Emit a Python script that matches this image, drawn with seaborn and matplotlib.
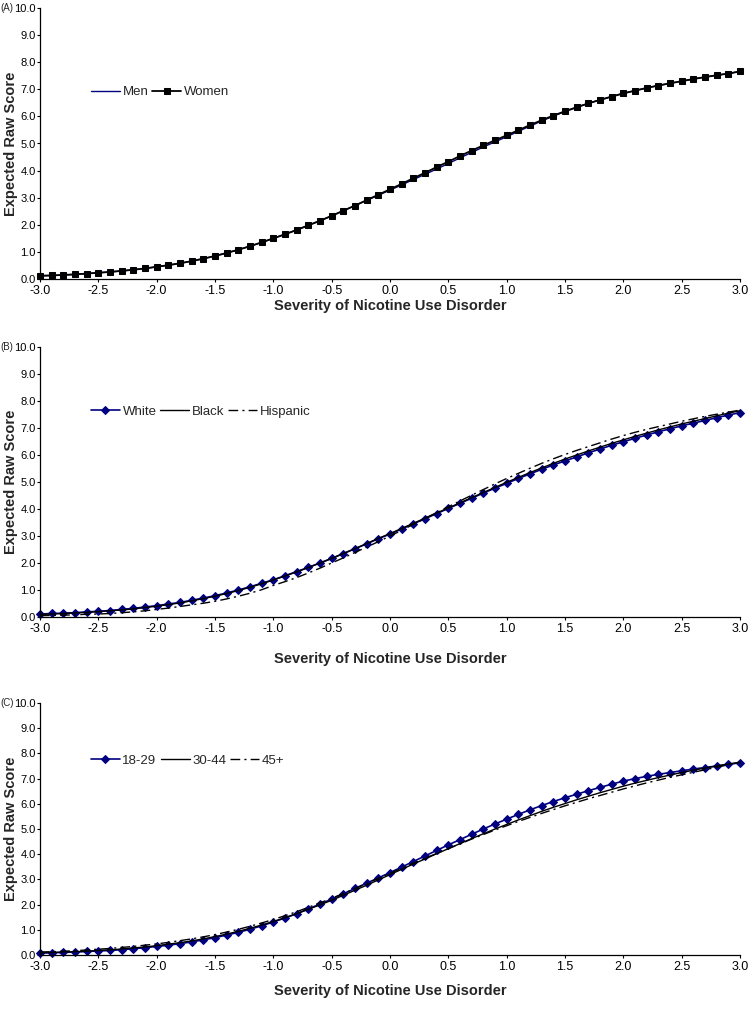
import numpy as np
import pandas as pd
import matplotlib
matplotlib.use("Agg")
import matplotlib.pyplot as plt
import seaborn as sns

# === data (x grid step 0.1) ===
severity = np.round(np.arange(-30, 31) / 10, 1)

men = [0.12, 0.13, 0.15, 0.17, 0.20, 0.23, 0.26, 0.30, 0.34, 0.39,
       0.45, 0.51, 0.58, 0.66, 0.75, 0.85, 0.96, 1.08, 1.21, 1.35,
       1.50, 1.65, 1.81, 1.98, 2.15, 2.33, 2.52, 2.71, 2.90, 3.09,
       3.28, 3.47, 3.67, 3.86, 4.06, 4.26, 4.47, 4.67, 4.87, 5.06,
       5.25, 5.45, 5.64, 5.83, 6.01, 6.18, 6.33, 6.48, 6.61, 6.73,
       6.85, 6.95, 7.05, 7.14, 7.22, 7.30, 7.38, 7.45, 7.52, 7.58, 7.66]
women = [0.12, 0.13, 0.15, 0.17, 0.20, 0.23, 0.26, 0.30, 0.34, 0.39,
         0.45, 0.51, 0.58, 0.66, 0.75, 0.85, 0.96, 1.08, 1.21, 1.35,
         1.50, 1.65, 1.81, 1.98, 2.15, 2.33, 2.52, 2.71, 2.91, 3.11,
         3.31, 3.51, 3.72, 3.92, 4.13, 4.33, 4.54, 4.74, 4.93, 5.12,
         5.30, 5.49, 5.68, 5.86, 6.03, 6.19, 6.34, 6.48, 6.61, 6.73,
         6.85, 6.95, 7.05, 7.14, 7.22, 7.30, 7.38, 7.45, 7.52, 7.58, 7.66]

white = [0.11, 0.13, 0.14, 0.16, 0.19, 0.21, 0.24, 0.28, 0.32, 0.37,
         0.42, 0.48, 0.54, 0.62, 0.70, 0.79, 0.89, 1.00, 1.12, 1.25,
         1.38, 1.53, 1.68, 1.84, 2.00, 2.17, 2.35, 2.53, 2.71, 2.90,
         3.07, 3.26, 3.45, 3.64, 3.83, 4.02, 4.21, 4.40, 4.59, 4.77,
         4.95, 5.13, 5.30, 5.47, 5.63, 5.78, 5.93, 6.08, 6.22, 6.36,
         6.49, 6.62, 6.74, 6.86, 6.97, 7.08, 7.18, 7.28, 7.38, 7.48, 7.57]
black = [0.10, 0.11, 0.13, 0.15, 0.17, 0.20, 0.23, 0.26, 0.30, 0.35,
         0.40, 0.46, 0.52, 0.60, 0.68, 0.77, 0.87, 0.98, 1.10, 1.23,
         1.37, 1.52, 1.67, 1.83, 2.00, 2.17, 2.35, 2.53, 2.72, 2.91,
         3.09, 3.28, 3.47, 3.66, 3.85, 4.04, 4.23, 4.42, 4.61, 4.80,
         4.99, 5.17, 5.35, 5.52, 5.69, 5.85, 6.00, 6.15, 6.29, 6.43,
         6.56, 6.69, 6.81, 6.93, 7.04, 7.15, 7.25, 7.35, 7.45, 7.55, 7.64]
hispanic = [0.05, 0.06, 0.07, 0.08, 0.10, 0.11, 0.13, 0.16, 0.19, 0.23,
            0.28, 0.33, 0.39, 0.45, 0.51, 0.58, 0.67, 0.77, 0.88, 1.01,
            1.17, 1.31, 1.46, 1.63, 1.81, 2.00, 2.19, 2.39, 2.59, 2.79,
            3.00, 3.21, 3.43, 3.65, 3.87, 4.08, 4.30, 4.51, 4.72, 4.93,
            5.13, 5.32, 5.51, 5.69, 5.86, 6.02, 6.17, 6.31, 6.45, 6.59,
            6.72, 6.84, 6.95, 7.05, 7.15, 7.25, 7.34, 7.43, 7.51, 7.59, 7.66]

age_18_29 = [0.08, 0.09, 0.10, 0.12, 0.14, 0.16, 0.18, 0.21, 0.25, 0.29,
             0.34, 0.39, 0.45, 0.52, 0.60, 0.69, 0.79, 0.90, 1.02, 1.16,
             1.31, 1.47, 1.64, 1.83, 2.02, 2.22, 2.43, 2.64, 2.85, 3.06,
             3.27, 3.49, 3.71, 3.93, 4.15, 4.37, 4.58, 4.79, 5.00, 5.20,
             5.39, 5.58, 5.76, 5.93, 6.09, 6.24, 6.38, 6.52, 6.65, 6.78,
             6.90, 7.00, 7.09, 7.17, 7.24, 7.31, 7.38, 7.44, 7.50, 7.56, 7.63]
age_30_44 = [0.09, 0.10, 0.12, 0.13, 0.15, 0.18, 0.20, 0.24, 0.28, 0.32,
             0.37, 0.43, 0.49, 0.56, 0.64, 0.73, 0.83, 0.94, 1.06, 1.19,
             1.33, 1.48, 1.64, 1.81, 1.99, 2.17, 2.37, 2.57, 2.77, 2.98,
             3.19, 3.40, 3.61, 3.81, 4.02, 4.22, 4.42, 4.62, 4.81, 5.00,
             5.18, 5.36, 5.53, 5.70, 5.86, 6.01, 6.16, 6.30, 6.44, 6.57,
             6.70, 6.82, 6.93, 7.04, 7.14, 7.24, 7.33, 7.42, 7.50, 7.58, 7.65]
age_45_plus = [0.12, 0.13, 0.15, 0.17, 0.20, 0.23, 0.26, 0.30, 0.34, 0.39,
               0.44, 0.50, 0.57, 0.64, 0.72, 0.81, 0.91, 1.02, 1.14, 1.27,
               1.41, 1.56, 1.72, 1.89, 2.07, 2.25, 2.44, 2.64, 2.84, 3.04,
               3.24, 3.44, 3.64, 3.84, 4.03, 4.22, 4.41, 4.60, 4.78, 4.96,
               5.13, 5.30, 5.46, 5.62, 5.77, 5.92, 6.06, 6.20, 6.33, 6.46,
               6.59, 6.71, 6.83, 6.94, 7.05, 7.15, 7.25, 7.35, 7.45, 7.55, 7.65]

x_ticks = np.round(np.arange(-6, 7) / 2, 1)
y_ticks = np.arange(0, 11)

# === styling ===
sns.set_style("ticks")
plt.rcParams['font.family'] = ['Liberation Sans', 'DejaVu Sans']

NAVY = "#000080"
fig = plt.figure(figsize=(7.51, 10.09), dpi=100)

left, width = 40 / 751, 700 / 751
# tag, top px, bottom px, xlabel pad, legend y (axes fraction)
panels = [
    ("(A)", 8, 279, 1, 0.69),
    ("(B)", 347, 617, 12, 0.76),
    ("(C)", 703, 955, 8, 0.77),
]

series = [
    [("Men", men, dict(color=NAVY, lw=1.0)),
     ("Women", women, dict(color="black", lw=1.3, marker="s", markersize=5))],
    [("White", white, dict(color=NAVY, lw=1.2, marker="D", markersize=4)),
     ("Black", black, dict(color="black", lw=1.0)),
     ("Hispanic", hispanic, dict(color="black", lw=1.0, dashes=(7, 3, 1.5, 3)))],
    [("18-29", age_18_29, dict(color=NAVY, lw=1.2, marker="D", markersize=4)),
     ("30-44", age_30_44, dict(color="black", lw=1.0)),
     ("45+", age_45_plus, dict(color="black", lw=1.0, dashes=(7, 3, 1.5, 3)))],
]

for (tag, top_px, bot_px, xpad, leg_y), group in zip(panels, series):
    bottom = 1 - bot_px / 1009
    height = (bot_px - top_px) / 1009
    ax = fig.add_axes([left, bottom, width, height])
    ax.patch.set_visible(False)

    for name, vals, kw in group:
        df = pd.DataFrame({"x": severity, "y": vals})
        sns.lineplot(data=df, x="x", y="y", ax=ax, label=name,
                     markeredgecolor=kw["color"], clip_on=False, **kw)

    ax.set_xlim(-3, 3)
    ax.set_ylim(0, 10)
    ax.set_xticks(x_ticks)
    ax.set_yticks(y_ticks)
    ax.set_xticklabels([f"{v:.1f}" for v in x_ticks], fontsize=9)
    ax.set_yticklabels([f"{v:.1f}" for v in y_ticks], fontsize=8)
    ax.tick_params(length=2, width=0.8, pad=1, colors="black")
    ax.tick_params(axis="x", length=2.5, pad=2)
    ax.set_xlabel("Severity of Nicotine Use Disorder", fontsize=10.5,
                  fontweight="bold", labelpad=xpad)
    ax.set_ylabel("Expected Raw Score", fontsize=10.5, fontweight="bold")
    ax.yaxis.set_label_coords(-0.031, 0.5)
    for side in ("top", "right"):
        ax.spines[side].set_visible(False)
    for side in ("left", "bottom"):
        ax.spines[side].set_linewidth(0.9)
        ax.spines[side].set_color("black")

    ax.legend(loc="center left", bbox_to_anchor=(0.065, leg_y), ncol=len(group),
              frameon=False, fontsize=9.5, handlelength=2.2, handletextpad=0.2,
              columnspacing=0.3, borderaxespad=0)

    fig.text(0, 1 - top_px / 1009, tag, fontsize=7,
             ha="left", va="center")

fig.savefig("out.png", dpi=100)
